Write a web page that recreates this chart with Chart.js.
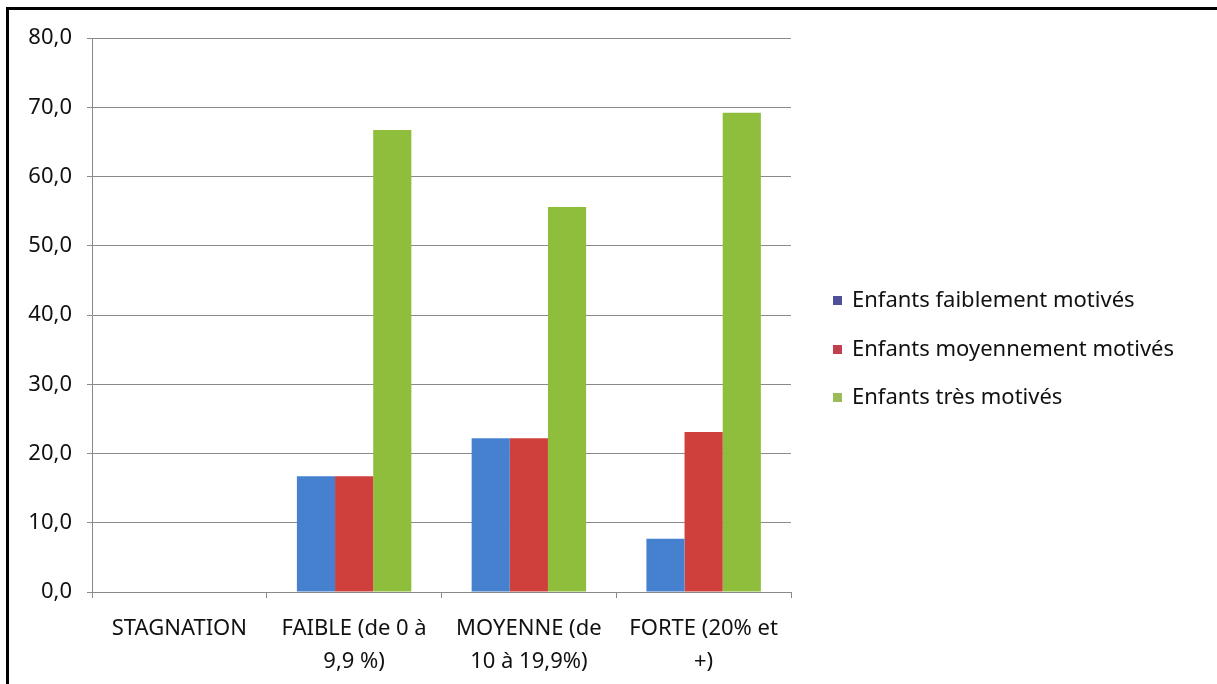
<!DOCTYPE html>
<html>
<head>
<meta charset="utf-8">
<script src="https://cdn.jsdelivr.net/npm/chart.js@4/dist/chart.umd.min.js"></script>
<style>
  html, body { margin: 0; padding: 0; background: #fff; }
  #wrap { position: absolute; left: 0; top: 0; width: 1217px; height: 684px; }
</style>
</head>
<body>
<div id="wrap"><canvas id="c" width="1217" height="684"></canvas></div>
<script>
const categories = [
  ['STAGNATION'],
  ['FAIBLE (de 0 à', '9,9 %)'],
  ['MOYENNE (de', '10 à 19,9%)'],
  ['FORTE (20% et', '+)']
];
const seriesNames = ['Enfants faiblement motivés', 'Enfants moyennement motivés', 'Enfants très motivés'];
const faiblement = [0, 16.7, 22.2, 7.7];
const moyennement = [0, 16.7, 22.2, 23.1];
const tresMotives = [0, 66.7, 55.6, 69.2];
const yTickLabels = ['0,0', '10,0', '20,0', '30,0', '40,0', '50,0', '60,0', '70,0', '80,0'];

const barColors = ['#4681cf', '#cf403d', '#8fbe3c'];
const legendColors = ['#50509a', '#c0404f', '#9bbb59'];
const FONT = '"Noto Sans", "DejaVu Sans", sans-serif';

const decor = {
  id: 'decor',
  beforeDraw(chart) {
    const ctx = chart.ctx;
    ctx.save();
    ctx.fillStyle = '#ffffff';
    ctx.fillRect(0, 0, chart.width, chart.height);
    ctx.fillStyle = '#000000';
    ctx.fillRect(6, 7, 1211, 3);
    ctx.fillRect(6, 7, 3, 677);
    ctx.restore();
  },
  afterDraw(chart) {
    const ctx = chart.ctx;
    ctx.save();
    ctx.font = '22px ' + FONT;
    ctx.textBaseline = 'middle';
    ctx.textAlign = 'left';
    const rows = [301, 350, 398];
    chart.data.datasets.forEach((ds, i) => {
      const y = rows[i];
      ctx.fillStyle = legendColors[i];
      ctx.fillRect(833, y - 5, 9, 9);
      ctx.fillStyle = '#111111';
      ctx.fillText(ds.label, 852, y);
    });
    ctx.restore();
  }
};

new Chart(document.getElementById('c'), {
  type: 'bar',
  data: {
    labels: categories,
    datasets: [
      { label: seriesNames[0], data: faiblement, backgroundColor: barColors[0] },
      { label: seriesNames[1], data: moyennement, backgroundColor: barColors[1] },
      { label: seriesNames[2], data: tresMotives, backgroundColor: barColors[2] }
    ]
  },
  options: {
    responsive: false,
    animation: false,
    devicePixelRatio: 1,
    layout: { padding: { left: 20, top: 38, right: 426, bottom: 0 } },
    datasets: { bar: { barPercentage: 1.0, categoryPercentage: 0.655 } },
    plugins: { legend: { display: false }, tooltip: { enabled: false } },
    scales: {
      x: {
        afterFit(s) { s.height = 92; },
        grid: { offset: true, drawOnChartArea: false, drawTicks: true, tickLength: 6, color: '#8a8a8a' },
        border: { color: '#8a8a8a', width: 1 },
        ticks: {
          color: '#111111',
          padding: 14,
          maxRotation: 0,
          autoSkip: false,
          font: { family: FONT, size: 22, lineHeight: 1.5 }
        }
      },
      y: {
        min: 0, max: 80,
        afterFit(s) { s.width = 72; },
        grid: { color: '#8a8a8a', tickLength: 5, drawTicks: true },
        border: { color: '#8a8a8a', width: 1 },
        ticks: {
          stepSize: 10,
          padding: 15,
          color: '#111111',
          font: { family: FONT, size: 22 },
          callback: (v, i) => yTickLabels[i]
        }
      }
    }
  },
  plugins: [decor]
});
</script>
</body>
</html>
